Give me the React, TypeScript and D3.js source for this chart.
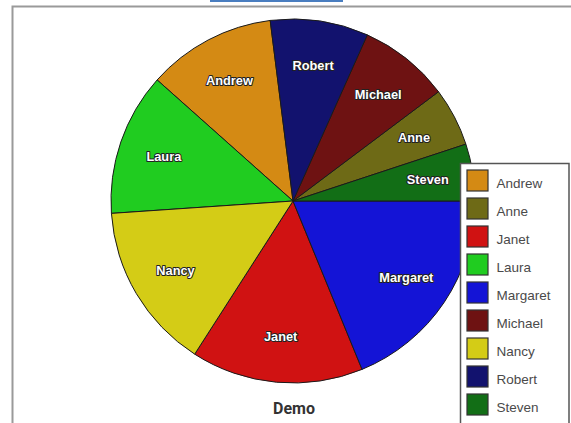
import React from "react";
import * as d3 from "d3";

const categories = ["Andrew", "Anne", "Janet", "Laura", "Margaret", "Michael", "Nancy", "Robert", "Steven"];
const values = [41.1, 18.7, 55.0, 45.6, 67.7, 29.0, 53.4, 31.3, 18.2];
const colors = ["#D48A14", "#6E6A16", "#D01212", "#20CC20", "#1414D6", "#6E1212", "#D4CC16", "#12126E", "#126E16"];
const title = "Demo";

const W = 571;
const H = 423;
const cx = 293;
const cy = 201;
const R = 182;

export default function App() {
  const data = categories.map((c, i) => ({ name: c, value: values[i], color: colors[i] }));
  const pie = d3
    .pie<any>()
    .value((d: any) => d.value)
    .sort((a: any, b: any) => b.value - a.value)
    .startAngle(Math.PI / 2)
    .endAngle(Math.PI / 2 + 2 * Math.PI);
  const arcs = pie(data);
  const arc = d3.arc<any>().innerRadius(0).outerRadius(R);
  const labelArc = d3.arc<any>().innerRadius(R * 0.75).outerRadius(R * 0.75);

  const legendX = 460;
  const legendY = 163;
  const rowH = 28;

  return (
    <svg width={W} height={H} style={{ position: "absolute", left: 0, top: 0 }}>
      <rect x={0} y={0} width={W} height={H} fill="#fff" />
      <rect x={210} y={0} width={133} height={2} fill="#4A7EC0" />
      <rect x={12.5} y={6.5} width={W} height={H} fill="none" stroke="#9a9a9a" strokeWidth={2} />
      <g transform={`translate(${cx},${cy})`}>
        {arcs.map((a: any) => (
          <path key={a.data.name} d={arc(a) as string} fill={a.data.color} stroke="#1a1a1a" strokeWidth={1} strokeLinejoin="round" />
        ))}
        {arcs.map((a: any) => {
          const [x, y] = labelArc.centroid(a);
          return (
            <text
              key={"l" + a.data.name}
              x={x}
              y={y}
              textAnchor="middle"
              dominantBaseline="central"
              fontFamily="Liberation Sans, Arial, sans-serif"
              fontSize={12.8}
              fontWeight="bold"
              fill="#ffffff"
              stroke="#222"
              strokeWidth={2}
              strokeLinejoin="round"
              style={{ paintOrder: "stroke" }}
            >
              {a.data.name}
            </text>
          );
        })}
      </g>
      <text x={294} y={414} textAnchor="middle" fontFamily="Roboto, sans-serif" fontSize={16} fontWeight="bold" fill="#333">
        {title}
      </text>
      <rect x={legendX + 0.5} y={legendY + 0.5} width={108.5} height={265} fill="#fff" stroke="#555" strokeWidth={1.5} />
      {data.map((d, i) => (
        <g key={"lg" + d.name} transform={`translate(${legendX + 7},${legendY + 7 + i * rowH})`}>
          <rect x={0} y={0} width={21} height={21} fill={d.color} stroke="#333" strokeWidth={1.2} />
          <text x={29.5} y={18.3} fontFamily="Liberation Sans, Arial, sans-serif" fontSize={13.5} fill="#4a4a4a">
            {d.name}
          </text>
        </g>
      ))}
    </svg>
  );
}
